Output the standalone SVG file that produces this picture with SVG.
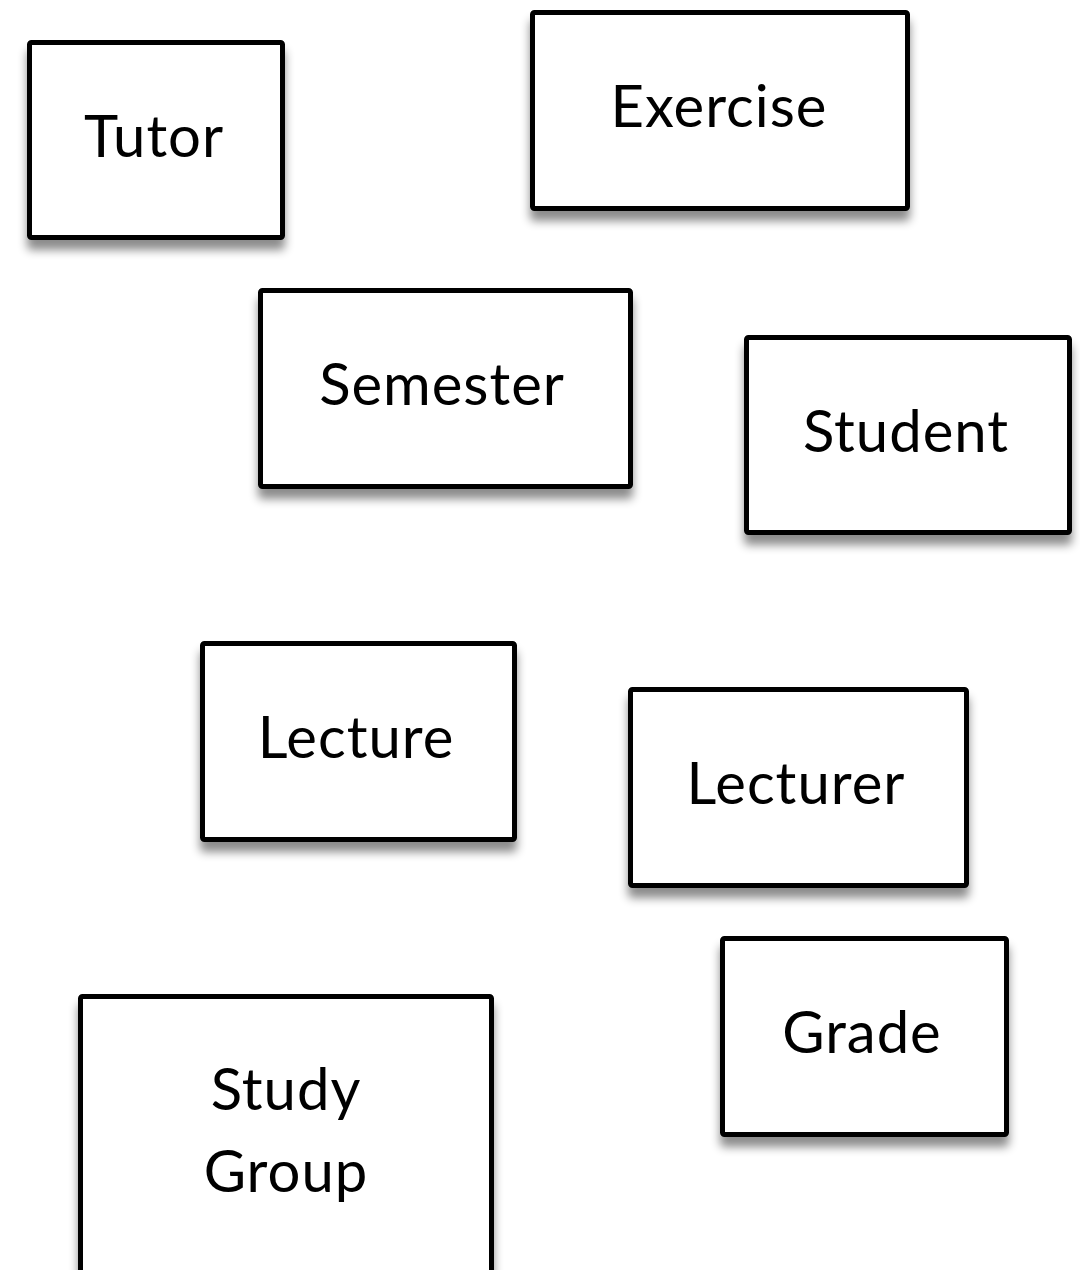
<svg xmlns="http://www.w3.org/2000/svg" width="1080" height="1270" viewBox="0 0 1080 1270">
<style>
.box{fill:#fff;stroke:#000;stroke-width:5;filter:url(#sh)}
.lbl{font-family:Lato,"Noto Sans",sans-serif;font-size:58px;letter-spacing:1px;fill:#000;text-anchor:middle}
</style>
<defs>
<filter id="sh" x="-10%" y="-10%" width="125%" height="130%">
<feDropShadow dx="0" dy="10" stdDeviation="5" flood-color="#000" flood-opacity="0.45"/>
</filter>
</defs>
<rect width="1080" height="1270" fill="#fff"/>
<g id="connectors"></g>
<g id="tutor"><rect class="box" x="29.5" y="42.5" width="253" height="195" rx="2"/><text class="lbl" x="154" y="157">Tutor</text></g>
<g id="exercise"><rect class="box" x="532.5" y="12.5" width="375" height="196" rx="2"/><text class="lbl" x="719" y="127">Exercise</text></g>
<g id="semester"><rect class="box" x="260.5" y="290.5" width="370" height="196" rx="2"/><text class="lbl" x="442" y="405">Semester</text></g>
<g id="student"><rect class="box" x="746.5" y="337.5" width="323" height="195" rx="2"/><text class="lbl" x="906" y="452">Student</text></g>
<g id="lecture"><rect class="box" x="202.5" y="643.5" width="312" height="196" rx="2"/><text class="lbl" x="356" y="758">Lecture</text></g>
<g id="lecturer"><rect class="box" x="630.5" y="689.5" width="336" height="196" rx="2"/><text class="lbl" x="796" y="804">Lecturer</text></g>
<g id="grade"><rect class="box" x="722.5" y="938.5" width="284" height="196" rx="2"/><text class="lbl" x="862" y="1053">Grade</text></g>
<g id="study-group"><rect class="box" x="80.5" y="996.5" width="411" height="300" rx="2"/><text class="lbl" x="286" y="1110">Study</text><text class="lbl" x="286" y="1192">Group</text></g>
</svg>
